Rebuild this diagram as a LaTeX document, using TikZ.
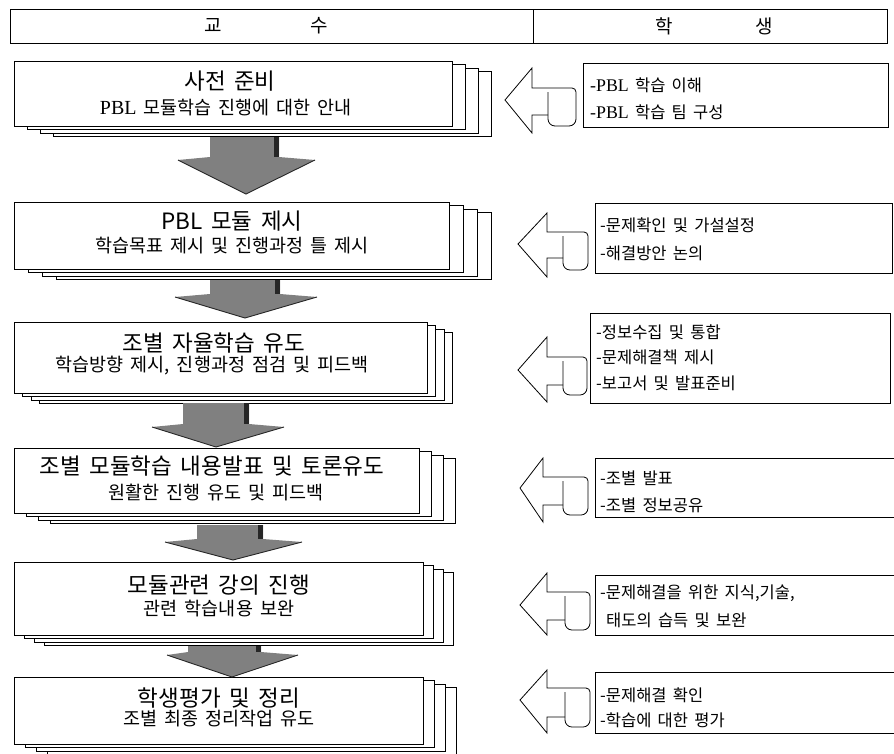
\documentclass[tikz,border=0pt]{standalone}
\usepackage{fontspec}
\setmainfont[WordSpace=1.7]{Noto Sans CJK KR}
\newfontfamily\lat[Scale=1.08]{Liberation Serif}
\tikzset{
  hdrbox/.style={draw=black, line width=0.8pt, inner sep=0pt, anchor=north west},
  stagebox/.style={draw=black, line width=0.8pt, fill=white, inner sep=0pt, anchor=north west},
  layerbox/.style={draw=black, line width=0.7pt, fill=white},
  downarrow/.style={fill=black!50},
  headedge/.style={draw=black!85, line width=0.9pt},
  shadowedge/.style={draw=black!85, line width=5pt},
  leftarrow/.style={draw=black, line width=0.8pt, line join=miter},
  cyl/.style={draw=black, line width=0.8pt},
  rbox/.style={draw=black, line width=0.8pt, inner sep=0pt, anchor=north west},
  ttl/.style={font=\fontsize{22.5}{26}\selectfont, inner sep=0pt},
  subl/.style={font=\fontsize{18.5}{22}\selectfont, inner sep=0pt},
  rtxt/.style={font=\fontsize{16.5}{20}\selectfont, inner sep=0pt, anchor=west},
  hdrtxt/.style={font=\fontsize{19}{22}\selectfont, inner sep=0pt}
}
\begin{document}
\begin{tikzpicture}[x=1pt,y=-1pt]
\useasboundingbox (0,0) rectangle (894,753);

% ---------------- header ----------------
\node[hdrbox, minimum width=523pt, minimum height=34pt] (hl) at (10,9) {};
\node[hdrbox, minimum width=354pt, minimum height=34pt] (hr) at (533,9) {};
\node[hdrtxt] (hlt) at (266,26) {교\hspace{88pt}수};
\node[hdrtxt] (hrt) at (714,26) {학\hspace{82pt}생};

% ---------------- stacked stage boxes ----------------
\foreach \nm/\tp/\bt/\rt/\dx in {s1/61/126/452/13, s2/202/269/449/14, s3/322/393/427/8.5,
                                 s4/448/513/419/12, s5/562/635/423/10, s6/677/744/423/11}{
  \foreach \k in {3,2,1}{
    \draw[layerbox] ({14+\k*\dx},{\tp+\k*3.5}) rectangle ({\rt+\k*\dx},{\bt+\k*3.5});
  }
  \pgfmathsetmacro\ww{\rt-14}
  \pgfmathsetmacro\hh{\bt-\tp}
  \node[stagebox, minimum width=\ww pt, minimum height=\hh pt] (\nm) at (14,\tp) {};
}

% stage texts
\node[ttl]  (s1t) at (230,81)  {사전 준비};
\node[subl] (s1s) at (226,108) {{\lat PBL} 모듈학습 진행에 대한 안내};
\node[ttl]  (s2t) at (232,221) {PBL 모듈 제시};
\node[subl] (s2s) at (232,246) {학습목표 제시 및 진행과정 틀 제시};
\node[ttl]  (s3t) at (214,343) {조별 자율학습 유도};
\node[subl] (s3s) at (212,366) {학습방향 제시, 진행과정 점검 및 피드백};
\node[ttl]  (s4t) at (212,466) {조별 모듈학습 내용발표 및 토론유도};
\node[subl] (s4s) at (216,492) {원활한 진행 유도 및 피드백};
\node[ttl]  (s5t) at (219,585) {모듈관련 강의 진행};
\node[subl] (s5s) at (219,609) {관련 학습내용 보완};
\node[ttl]  (s6t) at (219,698) {학생평가 및 정리};
\node[subl] (s6s) at (219,719) {조별 최종 정리작업 유도};

% ---------------- gray down arrows ----------------
% shaft left, shaft right, shaft top, head y, head left, head right, tip x, tip y
\foreach \sl/\sr/\st/\hy/\hl/\hr/\tx/\ty in {210/279/137/160/178/315/246/194,
                                               210/280/280/297/175/317/245/318,
                                               183/249/403/427/152/284/216/447,
                                               197/263/525/542/165/302/233/560,
                                               188/261/646/655/167/298/232/677}{
  \path[downarrow] (\sl,\st) -- (\sr,\st) -- (\sr,\hy-3) -- (\hr,\hy) -- (\tx,\ty) -- (\hl,\hy) -- (\sl,\hy-3) -- cycle;
  \draw[shadowedge] (\sr-2.5,\st) -- (\sr-2.5,\hy-3);
  \draw[headedge] (\hl,\hy) -- (\tx,\ty) -- (\hr,\hy);
}

% ---------------- left-pointing arrows with cylinders ----------------
\foreach \tx/\ty/\hb/\ht/\hbo/\st/\sb/\cl/\cr/\cb in {
   505/100/532/68/133/88/115/548/576/126,
   518/244/547/213/277/232/258/563/588/270,
   518/370/547/337/402/357/385/563/587/395,
   520/488/543/458/522/477/505/563/588/515,
   520/605/547/573/635/592/620/565/590/630,
   520/700/547/670/733/688/717/565/590/727}{
  \draw[leftarrow] (\cr-4,\st) -- (\hb,\st) -- (\hb,\ht) -- (\tx,\ty) -- (\hb,\hbo) -- (\hb,\sb) -- (\cl,\sb);
  \draw[cyl] (\cl,\st+4) -- (\cl,\cb-7) to[out=-90,in=180] (\cl+7,\cb) -- (\cr-7,\cb)
             to[out=0,in=-90] (\cr,\cb-7) -- (\cr,\st+4) to[out=90,in=0] (\cr-4,\st);
}

% ---------------- student text boxes ----------------
\node[rbox, minimum width=305pt, minimum height=64pt] (r1) at (583,63) {};
\node[rbox, minimum width=297pt, minimum height=70pt] (r2) at (595,203) {};
\node[rbox, minimum width=300pt, minimum height=90pt] (r3) at (590,313) {};
\coordinate (r4) at (595,458);
\coordinate (r5) at (595,575);
\coordinate (r6) at (595,672);
\draw[line width=0.8pt] (894,458) -- (r4) -- (595,517) -- (894,517);
\draw[line width=0.8pt] (894,575) -- (r5) -- (595,635) -- (894,635);
\draw[line width=0.8pt] (894,672) -- (r6) -- (595,733) -- (894,733);

\node[rtxt] (r1a) at (590,85)  {{\lat -PBL} 학습 이해};
\node[rtxt] (r1b) at (590,112) {{\lat -PBL} 학습 팀 구성};
\node[rtxt] (r2a) at (600,225) {-문제확인 및 가설설정};
\node[rtxt] (r2b) at (600,253) {-해결방안 논의};
\node[rtxt] (r3a) at (596,332) {-정보수집 및 통합};
\node[rtxt] (r3b) at (596,357) {-문제해결책 제시};
\node[rtxt] (r3c) at (596,383) {-보고서 및 발표준비};
\node[rtxt] (r4a) at (600,478) {-조별 발표};
\node[rtxt] (r4b) at (600,505) {-조별 정보공유};
\node[rtxt] (r5a) at (600,593) {-문제해결을 위한 지식,기술,};
\node[rtxt] (r5b) at (606,620) {태도의 습득 및 보완};
\node[rtxt] (r6a) at (600,695) {-문제해결 확인};
\node[rtxt] (r6b) at (600,720) {-학습에 대한 평가};
\end{tikzpicture}
\end{document}
